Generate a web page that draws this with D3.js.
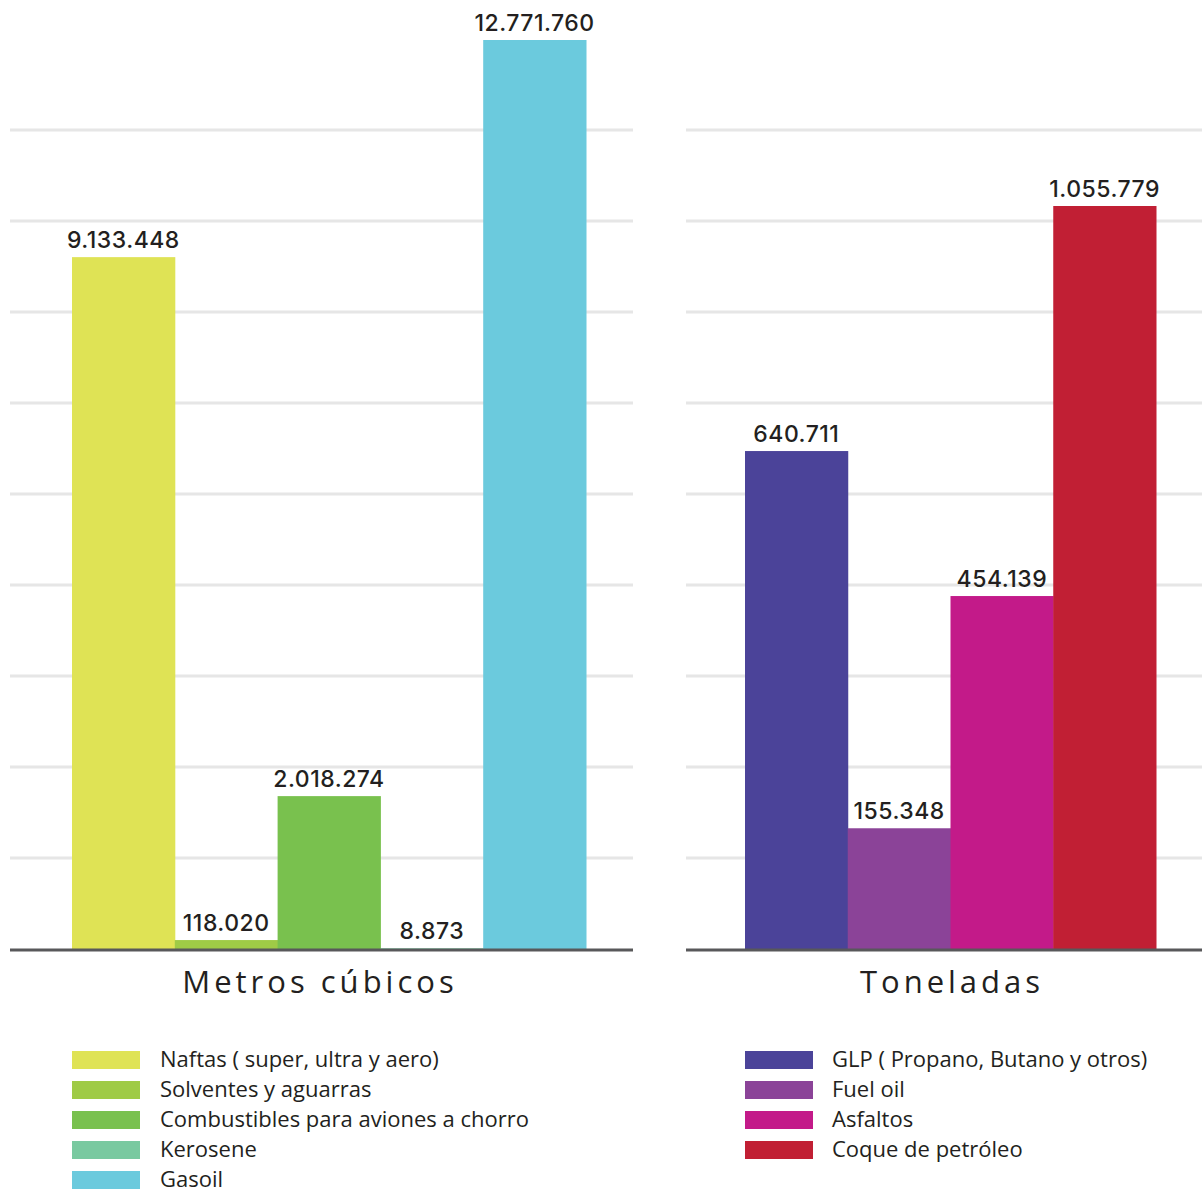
<!DOCTYPE html>
<html><head><meta charset="utf-8">
<script src="https://cdn.jsdelivr.net/npm/d3@7"></script>
<style>html,body{margin:0;padding:0;background:#fff;}svg{display:block;}</style>
</head><body>
<svg id="chart" width="1202" height="1196"></svg>
<script>
// ---- data ----
const leftCategories = ["Naftas ( super, ultra y aero)", "Solventes y aguarras", "Combustibles para aviones a chorro", "Kerosene", "Gasoil"];
const leftValues = [9133448, 118020, 2018274, 8873, 12771760];
const leftLabels = ["9.133.448", "118.020", "2.018.274", "8.873", "12.771.760"];
const leftColors = ["#DFE355", "#9FCB46", "#79C14E", "#79C9A0", "#6BCADD"];
const leftTitle = "Metros cúbicos";

const rightCategories = ["GLP ( Propano, Butano y otros)", "Fuel oil", "Asfaltos", "Coque de petróleo"];
const rightValues = [640711, 155348, 454139, 1055779];
const rightLabels = ["640.711", "155.348", "454.139", "1.055.779"];
const rightColors = ["#4B4399", "#8B4398", "#C31A89", "#C11F34"];
const rightTitle = "Toneladas";

// ---- layout ----
const svg = d3.select("#chart");
const baseY = 949;
const gridScale = d3.scaleLinear().domain([0, 10]).range([baseY, baseY - 910]);
const gridSteps = d3.range(1, 10);

function panel(opts) {
  const g = svg.append("g");
  // gridlines
  g.selectAll("line.grid").data(gridSteps).join("line")
    .attr("x1", opts.gx0).attr("x2", opts.gx1)
    .attr("y1", d => gridScale(d)).attr("y2", d => gridScale(d))
    .attr("stroke", "#E6E6E6").attr("stroke-width", 3);

  const x = d3.scaleBand().domain(opts.categories).range(opts.xRange).paddingInner(0).paddingOuter(0);
  const y = d3.scaleLinear().domain([0, opts.ceiling]).range([baseY, opts.top]).clamp(true);

  g.selectAll("rect.bar").data(opts.values).join("rect")
    .attr("x", (d, i) => x(opts.categories[i]))
    .attr("width", x.bandwidth() + 0.5)
    .attr("y", d => y(d))
    .attr("height", d => baseY - y(d))
    .attr("fill", (d, i) => opts.colors[i]);

  g.selectAll("text.val").data(opts.values).join("text")
    .attr("x", (d, i) => x(opts.categories[i]) + x.bandwidth() / 2)
    .attr("y", d => y(d) - 9)
    .attr("text-anchor", "middle")
    .attr("font-family", "Inter, 'Noto Sans', sans-serif")
    .attr("font-weight", 500)
    .attr("font-size", 23)
    .attr("letter-spacing", 0.5)
    .attr("fill", "#231F20")
    .text((d, i) => opts.labels[i]);

  // baseline
  g.append("line").attr("x1", opts.gx0).attr("x2", opts.gx1)
    .attr("y1", baseY + 1).attr("y2", baseY + 1)
    .attr("stroke", "#58585A").attr("stroke-width", 3);

  // title
  g.append("text")
    .attr("x", opts.titleX).attr("y", 993)
    .attr("text-anchor", "middle")
    .attr("font-family", "'Open Sans', 'Noto Sans', sans-serif")
    .attr("font-size", 31)
    .attr("letter-spacing", 4)
    .attr("fill", "#231F20")
    .text(opts.title);

  // legend
  const lg = g.append("g");
  const rows = lg.selectAll("g").data(opts.categories).join("g")
    .attr("transform", (d, i) => `translate(${opts.legX},${1051 + i * 30})`);
  rows.append("rect").attr("width", 68).attr("height", 18).attr("fill", (d, i) => opts.colors[i]);
  rows.append("text").attr("x", opts.legTextDx).attr("y", 16)
    .attr("font-family", "'Open Sans', 'Noto Sans', sans-serif")
    .attr("font-size", 22)
    .attr("fill", "#231F20")
    .text(d => d);
}

panel({
  categories: leftCategories, values: leftValues, labels: leftLabels, colors: leftColors,
  title: leftTitle, gx0: 10, gx1: 633, xRange: [72, 586], ceiling: 12000000, top: 40,
  titleX: 320, legX: 72, legTextDx: 88
});
panel({
  categories: rightCategories, values: rightValues, labels: rightLabels, colors: rightColors,
  title: rightTitle, gx0: 686, gx1: 1202, xRange: [745, 1156], ceiling: 956000, top: 206,
  titleX: 952, legX: 745, legTextDx: 87
});
</script>
</body></html>
